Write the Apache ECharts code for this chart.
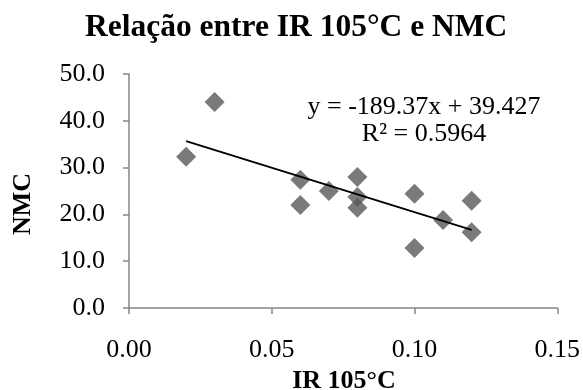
<!DOCTYPE html>
<html>
<head>
<meta charset="utf-8">
<script src="https://cdn.jsdelivr.net/npm/echarts@6/dist/echarts.min.js"></script>
<style>
  html, body { margin: 0; padding: 0; background: #fff; }
  #chart { width: 583px; height: 390px; }
</style>
</head>
<body>
<div id="chart"></div>
<script>
// IR 105°C vs NMC samples
const irValues  = [0.02, 0.03, 0.06, 0.06, 0.07, 0.08, 0.08, 0.08, 0.10, 0.10, 0.11, 0.12, 0.12];
const nmcValues = [32.3, 44.0, 27.4, 22.0, 25.0, 28.0, 23.7, 21.4, 24.4, 12.8, 18.8, 22.9, 16.2];

// Linear trendline coefficients (as stated in the equation label)
const slope = -189.37;
const intercept = 39.427;
const rSquared = 0.5964;

const xTicks = [0.00, 0.05, 0.10, 0.15];
const yTicks = [0, 10, 20, 30, 40, 50];

const points = irValues.map((x, i) => [x, nmcValues[i]]);
const xMinData = Math.min(...irValues);
const xMaxData = Math.max(...irValues);
const trend = [xMinData, xMaxData].map(x => [x, slope * x + intercept]);

const serif = '"Liberation Serif", "Times New Roman", serif';
const axisGray = '#868686';

const chart = echarts.init(document.getElementById('chart'), null, { renderer: 'canvas' });
chart.setOption({
  animation: false,
  backgroundColor: '#ffffff',
  title: {
    text: 'Relação entre IR 105°C e NMC',
    left: 85,
    top: 12,
    padding: 0,
    textStyle: { fontFamily: serif, fontSize: 31.5, fontWeight: 'bold', color: '#000' }
  },
  grid: { left: 129, right: 24, top: 74, bottom: 82 },
  xAxis: {
    type: 'value',
    min: xTicks[0],
    max: xTicks[xTicks.length - 1],
    interval: 0.05,
    splitLine: { show: false },
    axisLine: { show: true, lineStyle: { color: axisGray, width: 1.5 } },
    axisTick: { show: true, length: 6, lineStyle: { color: axisGray, width: 1.5 } },
    axisLabel: {
      margin: 29,
      fontFamily: serif, fontSize: 26, color: '#000',
      formatter: v => v.toFixed(2)
    }
  },
  yAxis: {
    type: 'value',
    min: yTicks[0],
    max: yTicks[yTicks.length - 1],
    interval: 10,
    splitLine: { show: false },
    axisLine: { show: true, lineStyle: { color: axisGray, width: 1.5 } },
    axisTick: { show: true, length: 6, lineStyle: { color: axisGray, width: 1.5 } },
    axisLabel: {
      margin: 24,
      padding: [6, 0, 0, 0],
      fontFamily: serif, fontSize: 26, color: '#000',
      formatter: v => v.toFixed(1)
    }
  },
  graphic: [
    {
      type: 'text', x: 344, y: 381,
      style: { text: 'IR 105°C', font: 'bold 26px ' + serif, fill: '#000', align: 'center', verticalAlign: 'middle' }
    },
    {
      type: 'text', x: 23, y: 204, rotation: Math.PI / 2,
      style: { text: 'NMC', font: 'bold 26px ' + serif, fill: '#000', align: 'center', verticalAlign: 'middle' }
    },
    {
      type: 'text', x: 424, y: 107,
      style: { text: 'y = ' + slope + 'x + ' + intercept, font: '26px ' + serif, fill: '#000', align: 'center', verticalAlign: 'middle' }
    },
    {
      type: 'text', x: 424, y: 134,
      style: { text: 'R² = ' + rSquared.toFixed(4), font: '26px ' + serif, fill: '#000', align: 'center', verticalAlign: 'middle' }
    }
  ],
  series: [
    {
      type: 'scatter',
      data: points,
      symbol: 'diamond',
      symbolSize: [20, 20],
      itemStyle: { color: '#595959' },
      z: 2
    },
    {
      type: 'line',
      data: trend,
      showSymbol: false,
      symbol: 'none',
      lineStyle: { color: '#000', width: 1.8 },
      z: 3
    }
  ]
});
</script>
</body>
</html>
